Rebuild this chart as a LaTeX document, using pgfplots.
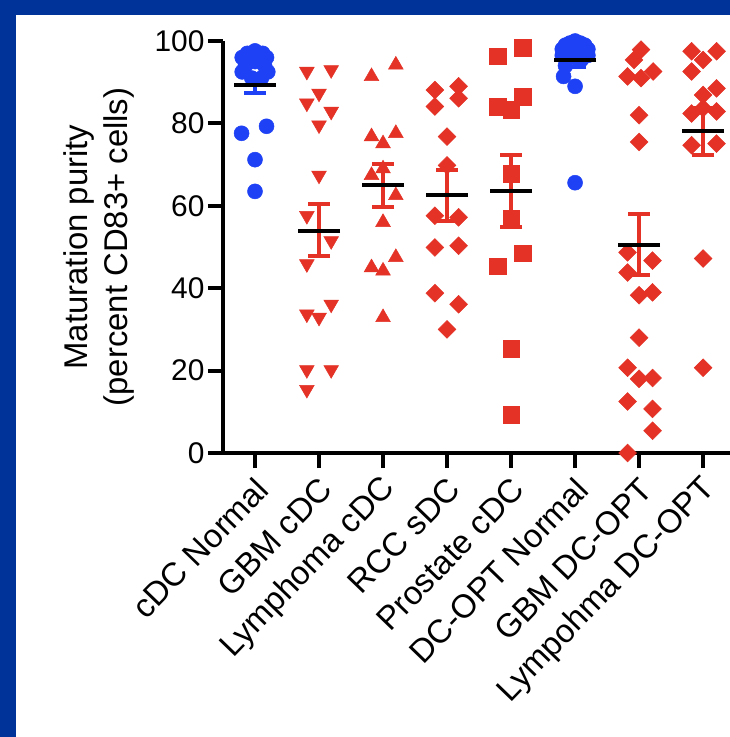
\documentclass[border=0pt]{standalone}
\usepackage{pgfplots}
\pgfplotsset{compat=1.18}
\usepackage{fontspec}
\setmainfont{Liberation Sans}
\definecolor{frameblue}{RGB}{0,51,153}
\definecolor{ptblue}{RGB}{30,65,245}
\definecolor{ptred}{RGB}{228,50,38}
\begin{document}
\begin{tikzpicture}
\fill[frameblue] (0bp,0bp) rectangle (730bp,737bp);
\fill[white] (16bp,0bp) rectangle (730bp,722bp);
\begin{axis}[
  at={(223bp,284bp)}, anchor=south west,
  scale only axis, width=507bp, height=412bp,
  xmin=-0.5, xmax=7.42, ymin=0, ymax=100,
  axis lines*=left,
  axis line style={line width=4.5bp, black},
  tick style={line width=4bp, black},
  major tick length=15bp, tick align=outside,
  ytick={0,20,40,60,80,100},
  xtick={0,1,2,3,4,5,6,7},
  xticklabels={cDC Normal, GBM cDC, Lymphoma cDC, RCC sDC, Prostate cDC, DC-OPT Normal, GBM DC-OPT, Lympohma DC-OPT},
  /pgf/number format/assume math mode=true,
  yticklabel style={font=\fontsize{30}{36}\selectfont},
  xticklabel style={font=\fontsize{33}{38}\selectfont, rotate=46, anchor=east, yshift=-16bp, xshift=-3bp},
  ylabel={Maturation purity\\(percent CD83+ cells)},
  ylabel style={align=center, font=\fontsize{33}{41}\selectfont},
  ylabel shift=13bp,
  clip=false,
]
% cDC Normal
\addplot[only marks, mark=*, mark size=7.5bp, ptblue, mark options={fill=ptblue, draw=ptblue, line width=0.5bp}] coordinates {
 (0,97.6) (-0.12,97) (0.12,97) (-0.2,96) (0.18,96) (0,95) (-0.15,94) (0.15,94)
 (-0.2,92.5) (0.2,92.5) (-0.05,91) (0.1,91)
 (-0.21,77.6) (0.18,79.3) (0,71.2) (0,63.5)};
% GBM cDC
\addplot[only marks, mark=triangle*, mark size=8.5bp, ptred, mark options={rotate=180, fill=ptred, draw=ptred, line width=0.5bp}] coordinates {
 (0.81,92.6) (1.19,93.0) (1.0,87.3) (0.81,84.9) (1.19,82.9) (1.0,79.6) (1.0,67.4)
 (0.81,57.6) (1.19,51.5) (0.81,45.9) (1.19,36.1) (0.81,33.7) (1.0,32.9)
 (0.81,20.2) (1.19,20.2) (0.81,15.4)};
% Lymphoma cDC
\addplot[only marks, mark=triangle*, mark size=8.5bp, ptred, mark options={fill=ptred, draw=ptred, line width=0.5bp}] coordinates {
 (1.82,91.4) (2.2,94.2) (1.82,76.8) (2.2,77.6) (2.0,75.1) (2.0,69.0) (1.82,67.4)
 (2.2,62.5) (2.0,56.0) (2.2,47.5) (1.82,45.0) (2.0,44.2) (2.0,32.9)};
% RCC sDC
\addplot[only marks, mark=square*, mark size=6.3bp, ptred, mark options={rotate=45, fill=ptred, draw=ptred, line width=0.5bp}] coordinates {
 (2.81,88.1) (3.18,89.0) (3.18,86.1) (2.81,84.1) (3.0,76.8) (3.0,69.8)
 (2.81,57.6) (3.18,57.2) (2.81,49.9) (3.18,50.3) (2.81,38.8) (3.18,36.1) (3.0,30.0)};
% Prostate cDC
\addplot[only marks, mark=square*, mark size=8.3bp, ptred, mark options={fill=ptred, draw=ptred, line width=0.5bp}] coordinates {
 (3.79,96.3) (4.18,98.3) (4.18,86.5) (3.79,84.1) (4.0,83.3) (4.0,67.8)
 (4.0,56.8) (4.18,48.5) (3.79,45.3) (4.0,25.3) (4.0,9.3)};
% DC-OPT Normal
\addplot[only marks, mark=*, mark size=7.5bp, ptblue, mark options={fill=ptblue, draw=ptblue, line width=0.5bp}] coordinates {
 (5,100) (4.92,99.5) (5.08,99.5) (4.85,99) (5.15,99) (5,98.5) (4.8,98) (5.2,98)
 (4.9,97.5) (5.1,97.5) (5,97) (4.8,96.5) (5.2,96.5) (4.9,96) (5.1,95.5) (4.85,94)
 (4.82,91.4) (5.0,89.0) (5.0,65.6)};
% GBM DC-OPT
\addplot[only marks, mark=square*, mark size=6.3bp, ptred, mark options={rotate=45, fill=ptred, draw=ptred, line width=0.5bp}] coordinates {
 (6.03,97.9) (5.92,95.4) (5.82,91.4) (6.03,91.0) (6.22,92.6) (6.0,82.0) (6.0,75.5)
 (5.82,48.7) (6.21,46.7) (5.82,43.8) (6.0,38.3) (6.21,39.0) (6.0,28.0)
 (5.82,20.7) (6.0,18.0) (6.21,18.2) (5.82,12.5) (6.21,10.7) (6.21,5.4) (5.82,0)};
% Lympohma DC-OPT
\addplot[only marks, mark=square*, mark size=6.3bp, ptred, mark options={rotate=45, fill=ptred, draw=ptred, line width=0.5bp}] coordinates {
 (6.82,97.5) (7.21,97.5) (7.0,95.4) (6.82,92.6) (7.21,88.5) (7.0,86.9) (7.0,83.7)
 (7.21,82.9) (6.82,82.4) (7.21,75.1) (6.82,74.7) (7.0,47.2) (7.0,20.7)};
% error bars (SEM)
\addplot[draw=none, mark=none, error bars/.cd, y dir=both, y explicit,
  error bar style={line width=4bp, draw=ptred, solid},
  error mark options={rotate=90, mark size=11bp, line width=4bp, draw=ptred}] coordinates {
 (1,54.2) +- (0,6.3)
 (2,65.0) +- (0,5.2)
 (3,62.5) +- (0,6.3)
 (4,63.6) +- (0,8.8)
 (6,50.6) +- (0,7.3)
 (7,78.1) +- (0,5.7)};
\addplot[draw=none, mark=none, error bars/.cd, y dir=both, y explicit,
  error bar style={line width=4bp, draw=ptblue, solid},
  error mark options={rotate=90, mark size=11bp, line width=4bp, draw=ptblue}] coordinates {
 (0,89.3) +- (0,2.0)
 (5,95.3) +- (0,1.5)};
% means
\addplot[only marks, mark=-, mark size=21bp, mark options={line width=4bp, draw=black}] coordinates {
 (0,89.3) (1,54.0) (2,65.0) (3,62.5) (4,63.6) (5,95.3) (6,50.6) (7,78.2)};
\end{axis}
\pgfresetboundingbox
\useasboundingbox (0bp,0bp) rectangle (730bp,737bp);
\end{tikzpicture}
\end{document}
